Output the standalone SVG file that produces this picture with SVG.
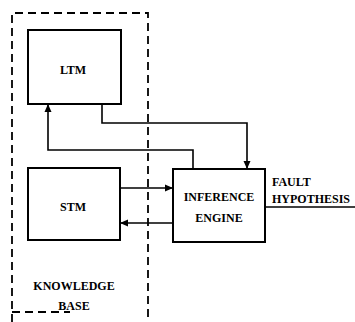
<svg xmlns="http://www.w3.org/2000/svg" width="355" height="322" viewBox="0 0 355 322">
<defs>
<style>
.box{fill:#fff;stroke:#000;stroke-width:2}
.ln{fill:none;stroke:#000;stroke-width:1.6}
.dash{fill:none;stroke:#000;stroke-width:1.8;stroke-dasharray:8,5}
text{font-family:"Liberation Serif",serif;font-weight:bold;font-size:12px;fill:#000}
</style>
<marker id="ah" markerWidth="8" markerHeight="8" refX="7" refY="4" orient="auto" markerUnits="userSpaceOnUse">
<path d="M0,0.5 L8,4 L0,7.5 Z" fill="#000"/>
</marker>
</defs>
<rect width="355" height="322" fill="#fff"/>
<g id="knowledge-base">
<path class="dash" d="M12,322 L12,13 L148,13 L148,322"/>
<path class="dash" d="M12,312 L70,312"/>
<text x="74" y="290" text-anchor="middle">KNOWLEDGE</text>
<text x="74" y="310" text-anchor="middle">BASE</text>
</g>
<g id="connectors">
<path class="ln" d="M102,104 L102,123 L247,123 L247,168" marker-end="url(#ah)"/>
<path class="ln" d="M193,169 L193,150 L48,150 L48,105" marker-end="url(#ah)"/>
<path class="ln" d="M120,188 L172,188" marker-end="url(#ah)"/>
<path class="ln" d="M173,223 L121,223" marker-end="url(#ah)"/>
<path class="ln" d="M265,207 L355,207"/>
<text x="272" y="186">FAULT</text>
<text x="272" y="203">HYPOTHESIS</text>
</g>
<g id="ltm">
<rect class="box" x="28" y="30" width="93" height="74"/>
<text x="73" y="74" text-anchor="middle">LTM</text>
</g>
<g id="stm">
<rect class="box" x="28" y="168" width="92" height="72"/>
<text x="73" y="211" text-anchor="middle">STM</text>
</g>
<g id="inference-engine">
<rect class="box" x="173" y="169" width="92" height="73"/>
<text x="219" y="201" text-anchor="middle">INFERENCE</text>
<text x="219" y="222" text-anchor="middle">ENGINE</text>
</g>
</svg>
